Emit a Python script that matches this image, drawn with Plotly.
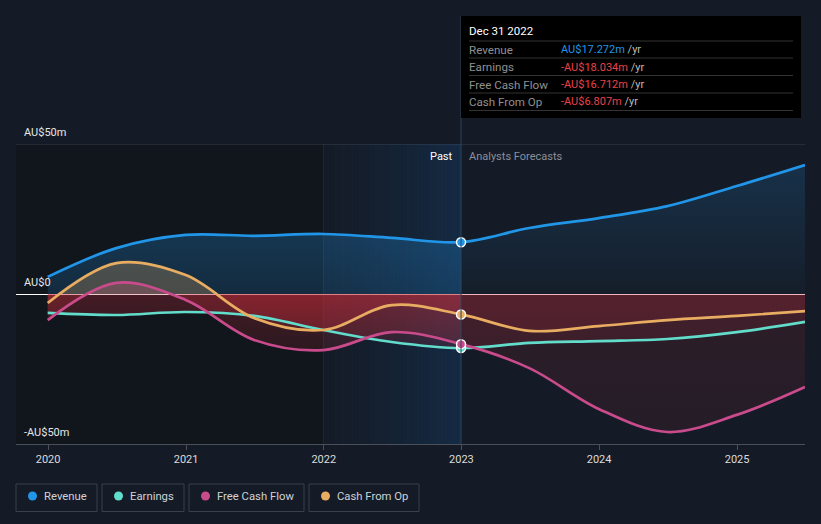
import plotly.graph_objects as go
import pandas as pd
import numpy as np

# ---------------- data ----------------
dates = ["2019-12-31", "2020-06-30", "2020-12-31", "2021-06-30", "2021-12-31",
         "2022-06-30", "2022-12-31", "2023-06-30", "2023-12-31", "2024-06-30",
         "2024-12-31", "2025-06-30"]
PAST_N = 7  # points up to and including Dec 31 2022 are reported
revenue = [5.7, 15.3, 19.7, 19.4, 20.0, 18.7, 17.272, 22.0, 25.3, 29.3, 36.0, 43.0]
earnings = [-6.3, -7.0, -6.0, -7.3, -12.0, -16.0, -18.034, -16.3, -15.7, -15.0, -12.7, -9.3]
fcf = [-8.7, 3.7, -2.0, -15.3, -18.7, -12.7, -16.712, -24.7, -38.3, -46.0, -40.3, -31.0]
cfo = [-3.0, 10.3, 6.3, -8.0, -12.0, -3.7, -6.807, -12.3, -10.7, -8.7, -7.3, -5.7]

series_names = ["Revenue", "Earnings", "Free Cash Flow", "Cash From Op"]
series_vals = [revenue, earnings, fcf, cfo]
series_cols = ["#2196e8", "#62dccb", "#c94b8c", "#e9ad62"]
series_rgb = [(33, 150, 232), (98, 220, 203), (201, 75, 140), (233, 173, 98)]

tip_date = "Dec 31 2022"
tip_values = ["AU$17.272m", "-AU$18.034m", "-AU$16.712m", "-AU$6.807m"]

year_ticks = ["2020", "2021", "2022", "2023", "2024", "2025"]
y_labels = ["AU$50m", "AU$0", "-AU$50m"]
y_label_vals = [50, 0, -50]

BG = "#151b26"
FONT = "Roboto"

# ---------------- layout geometry (pixels) ----------------
W, H = 821, 524
L, R, T, B = 16, 805, 144, 444


def px(xp):
    return (xp - L) / (R - L)


def py(yp):
    return (B - yp) / (B - T)


fig = go.Figure()

past_x = dates[:PAST_N]
fut_x = dates[PAST_N - 1:]


def rgba(c, a):
    return "rgba(%d,%d,%d,%.3f)" % (c[0], c[1], c[2], a)


RED = (205, 45, 58)
for i, (name, vals, rgb) in enumerate(zip(series_names, series_vals, series_rgb)):
    for seg, (xs, ys) in enumerate([(past_x, vals[:PAST_N]), (fut_x, vals[PAST_N - 1:])]):
        past = seg == 0
        if name == "Revenue":
            if past:
                cs = [[0, rgba(rgb, 0.05)], [0.5, rgba(rgb, 0.17)], [0.7, rgba(rgb, 0.26)], [1, rgba(rgb, 0.3)]]
            else:
                cs = [[0, rgba(rgb, 0.0)], [0.5, rgba(rgb, 0.02)], [0.9, rgba(rgb, 0.17)], [1, rgba(rgb, 0.2)]]
        else:
            if past:
                cs = [[0, rgba(RED, 0.08)], [0.3, rgba(RED, 0.14)], [0.4999, rgba(RED, 0.27)],
                      [0.5, rgba(rgb, 0.25)], [1, rgba(rgb, 0.25)]]
            else:
                cs = [[0, rgba(RED, 0.08)], [0.4999, rgba(RED, 0.13)],
                      [0.5, rgba(rgb, 0.15)], [1, rgba(rgb, 0.15)]]
        fig.add_trace(go.Scatter(
            x=xs, y=ys, mode="lines", line=dict(width=0, shape="spline", color="rgba(0,0,0,0)"),
            fill="tozeroy", fillgradient=dict(type="vertical", start=-50, stop=50, colorscale=cs),
            hoverinfo="skip", showlegend=False))

# lines
order = [1, 2, 3, 0]
for i in order:
    fig.add_trace(go.Scatter(
        x=dates, y=series_vals[i], mode="lines",
        line=dict(color=series_cols[i], width=2.7, shape="spline"),
        hoverinfo="skip", showlegend=False))

# markers at the last reported point
for i in order:
    fig.add_trace(go.Scatter(
        x=[dates[PAST_N - 1]], y=[series_vals[i][PAST_N - 1]], mode="markers",
        marker=dict(color=series_cols[i], size=9, line=dict(color="white", width=1.5)),
        hoverinfo="skip", showlegend=False))

shapes = []
# darker past area
shapes.append(dict(type="rect", xref="x domain", yref="y", x0=0, x1=0.3893, y0=-50, y1=50,
                   fillcolor="#11151c", line_width=0, layer="below"))
# highlighted last year band (horizontal gradient via slices)
band = pd.date_range(dates[4], dates[PAST_N - 1], periods=41)
for k in range(len(band) - 1):
    a = 0.02 + 0.2 * (k / (len(band) - 2)) ** 1.3
    shapes.append(dict(type="rect", xref="x", yref="y", x0=band[k], x1=band[k + 1], y0=-50, y1=50,
                       fillcolor=rgba((22, 100, 175), a), line_width=0, layer="below"))
shapes.append(dict(type="line", xref="x", yref="y", x0=dates[4], x1=dates[4], y0=-50, y1=50,
                   line=dict(color="rgba(40,70,110,0.35)", width=1), layer="below"))
# top grid line
shapes.append(dict(type="line", xref="paper", yref="y", x0=0, x1=1, y0=50, y1=50,
                   line=dict(color="#3a3f4a", width=1), layer="below"))
# tooltip vertical line
shapes.append(dict(type="line", xref="x", yref="paper", x0=dates[PAST_N - 1], x1=dates[PAST_N - 1],
                   y0=0, y1=py(16), line=dict(color="#2c4560", width=1), layer="above"))
# tooltip box
shapes.append(dict(type="rect", xref="paper", yref="paper", x0=px(461), x1=px(801), y0=py(118), y1=py(16),
                   fillcolor="#000000", line_width=0, layer="above"))
for yy in [41, 58, 75.5, 93, 110.5]:
    shapes.append(dict(type="line", xref="paper", yref="paper", x0=px(469), x1=px(793), y0=py(yy), y1=py(yy),
                       line=dict(color="#333333", width=1), layer="above"))

annotations = []
annotations.append(dict(xref="paper", yref="paper", x=px(467), y=py(31), text=tip_date, showarrow=False,
                        xanchor="left", yanchor="middle", font=dict(family=FONT, size=11.5, color="#ffffff")))
row_y = [49.5, 67, 84.5, 101.5]
for i in range(4):
    annotations.append(dict(xref="paper", yref="paper", x=px(467), y=py(row_y[i]), text=series_names[i],
                            showarrow=False, xanchor="left", yanchor="middle",
                            font=dict(family=FONT, size=11.6, color="#909090")))
    vcol = "#2196e8" if i == 0 else "#e8434a"
    annotations.append(dict(xref="paper", yref="paper", x=px(559), y=py(row_y[i]),
                            text='<span style="color:%s">%s</span> /yr' % (vcol, tip_values[i]),
                            showarrow=False, xanchor="left", yanchor="middle",
                            font=dict(family=FONT, size=11, color="#bbbbbb")))

# y labels
for lab, v in zip(y_labels, y_label_vals):
    annotations.append(dict(xref="paper", yref="y", x=px(22), y=v, yshift=12, text=lab, showarrow=False,
                            xanchor="left", yanchor="middle",
                            font=dict(family=FONT, size=11, color="#e6e6e6")))

# Past / Analysts Forecasts
annotations.append(dict(xref="paper", yref="paper", x=px(455), y=py(156), text="Past", showarrow=False,
                        xanchor="right", yanchor="middle", font=dict(family=FONT, size=11, color="#ffffff")))
annotations.append(dict(xref="paper", yref="paper", x=px(467), y=py(156), text="Analysts Forecasts",
                        showarrow=False, xanchor="left", yanchor="middle",
                        font=dict(family=FONT, size=11, color="#8a8f98")))

# legend boxes
leg_boxes = [(16, 97), (102, 184), (189, 304), (309, 419)]
for (x0, x1), name, col in zip(leg_boxes, series_names, series_cols):
    shapes.append(dict(type="rect", xref="paper", yref="paper", x0=px(x0), x1=px(x1), y0=py(511.5), y1=py(484),
                       line=dict(color="#3b404b", width=1), fillcolor="rgba(0,0,0,0)"))
    shapes.append(dict(type="circle", xref="paper", yref="paper", x0=px(x0 + 12), x1=px(x0 + 21),
                       y0=py(500.5), y1=py(491.5), fillcolor=col, line_width=0))
    annotations.append(dict(xref="paper", yref="paper", x=px(x0 + 26), y=py(496), text=name, showarrow=False,
                            xanchor="left", yanchor="middle",
                            font=dict(family=FONT, size=11.3, color="#cfd2d6")))

fig.update_layout(
    width=W, height=H, autosize=False,
    margin=dict(l=L, r=W - R, t=T, b=H - B),
    paper_bgcolor=BG, plot_bgcolor=BG,
    shapes=shapes, annotations=annotations, showlegend=False,
    xaxis=dict(type="date", range=["2019-10-08", "2025-06-30"],
               tickvals=[y + "-01-01" for y in year_ticks], ticktext=year_ticks,
               ticks="outside", ticklen=5, tickcolor="#4a4f5a", showline=True, linecolor="#4a4f5a",
               showgrid=False, zeroline=False, tickfont=dict(family=FONT, size=11, color="#dcdcdc"),
               fixedrange=True),
    yaxis=dict(range=[-50, 50], showticklabels=False, showgrid=False, zeroline=True,
               zerolinecolor="#ffffff", zerolinewidth=1, fixedrange=True),
)

fig.write_html("out.html", config={"displayModeBar": False})
